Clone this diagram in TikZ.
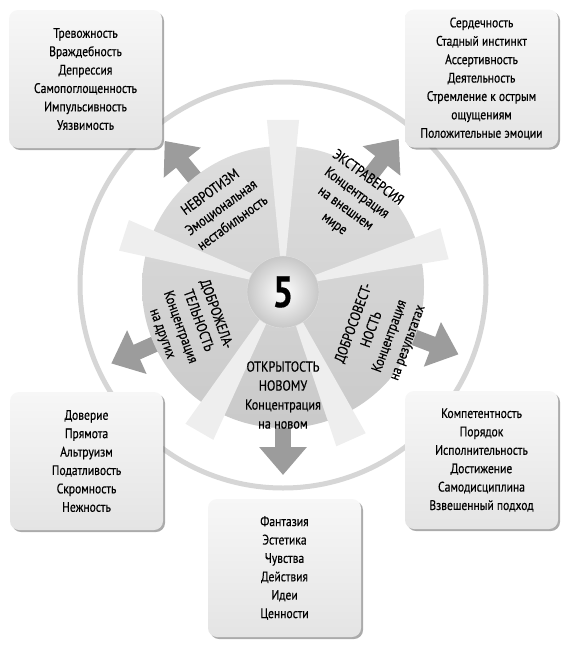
\documentclass[tikz,border=0pt]{standalone}
\usepackage{fontspec}
\setmainfont[FakeStretch=0.84,FakeBold=0.4]{PT Sans}
\usepackage{tikz}
\usetikzlibrary{arrows.meta,calc,shadows}
\definecolor{ringgray}{RGB}{214,214,214}
\definecolor{arrowgray}{RGB}{156,156,156}
\definecolor{spokegray}{RGB}{238,238,238}
\definecolor{boxtop}{RGB}{247,247,247}
\definecolor{boxbottom}{RGB}{228,228,228}

\begin{document}
\begin{tikzpicture}[x=1pt, y=1pt,
    trait/.style={rectangle, rounded corners=9pt, top color=boxtop, bottom color=boxbottom,
        drop shadow={shadow xshift=2pt, shadow yshift=-2pt, fill=black!55, opacity=0.6},
        minimum width=153pt, minimum height=138pt, align=center,
        font=\fontsize{13.8}{18.4}\selectfont},
    factor/.style={align=center, font=\fontsize{14.5}{19}\selectfont},
    arr/.style={-{Triangle[width=46pt,length=28pt]}, line width=16pt, draw=arrowgray},
    spoke/.style={fill=spokegray}
]
\useasboundingbox (0,0) rectangle (570,-651);

% outer ring
\node[circle, draw=ringgray, line width=5pt, minimum size=406pt] (ring) at (283,-285) {};

% wheel centre (drawn later)
\coordinate (hub) at (283,-287);

% arrows out of the wheel
\foreach \ang in {129,52,-21,-90,204}
  \draw[arr] ($(hub)+(\ang:120)$) -- ($(hub)+(\ang:188)$);

% trait boxes
\node[trait] (neuro) at (85.5,-79) {Тревожность\\Враждебность\\Депрессия\\Самопоглощенность\\Импульсивность\\Уязвимость};
\node[trait] (extra) at (481.5,-78.5) {Сердечность\\Стадный инстинкт\\Ассертивность\\Деятельность\\Стремление к острым\\ощущениям\\Положительные эмоции};
\node[trait] (agree) at (86.5,-461) {Доверие\\Прямота\\Альтруизм\\Податливость\\Скромность\\Нежность};
\node[trait] (consc) at (481.5,-460) {Компетентность\\Порядок\\Исполнительность\\Достижение\\Самодисциплина\\Взвешенный подход};
\node[trait] (open) at (284.5,-568) {Фантазия\\Эстетика\\Чувства\\Действия\\Идеи\\Ценности};

% the wheel
\node[circle, minimum size=282pt, top color=black!13, bottom color=black!21] (wheel) at (hub) {};
\foreach \ang in {90,15,-66,-120,162}
  \fill[spoke] (hub) -- ($(hub)+(\ang-5.5:168)$) -- ($(hub)+(\ang+5.5:168)$) -- cycle;

% factor labels
\node[factor, rotate=36] (neurolab) at ($(hub)+(-62,80)$) {НЕВРОТИЗМ\\Эмоциональная\\нестабильность};
\node[factor, rotate=-36] (extralab) at ($(hub)+(68,86)$) {ЭКСТРАВЕРСИЯ\\Концентрация\\на внешнем\\мире};
\node[factor, rotate=70] (consclab) at ($(hub)+(98,-46)$) {ДОБРОСОВЕСТ-\\НОСТЬ\\Концентрация\\на результатах};
\node[factor] (openlab) at ($(hub)+(0,-108)$) {ОТКРЫТОСТЬ\\НОВОМУ\\Концентрация\\на новом};
\node[factor, rotate=-70] (agreelab) at ($(hub)+(-94,-37)$) {ДОБРОЖЕЛА-\\ТЕЛЬНОСТЬ\\Концентрация\\на других};

% centre disc
\node[circle, minimum size=72pt, inner color=white, outer color=black!22, draw=black!12,
    font=\fontsize{44}{44}\selectfont\bfseries] (five) at (283,-292) {5};
\end{tikzpicture}
\end{document}
